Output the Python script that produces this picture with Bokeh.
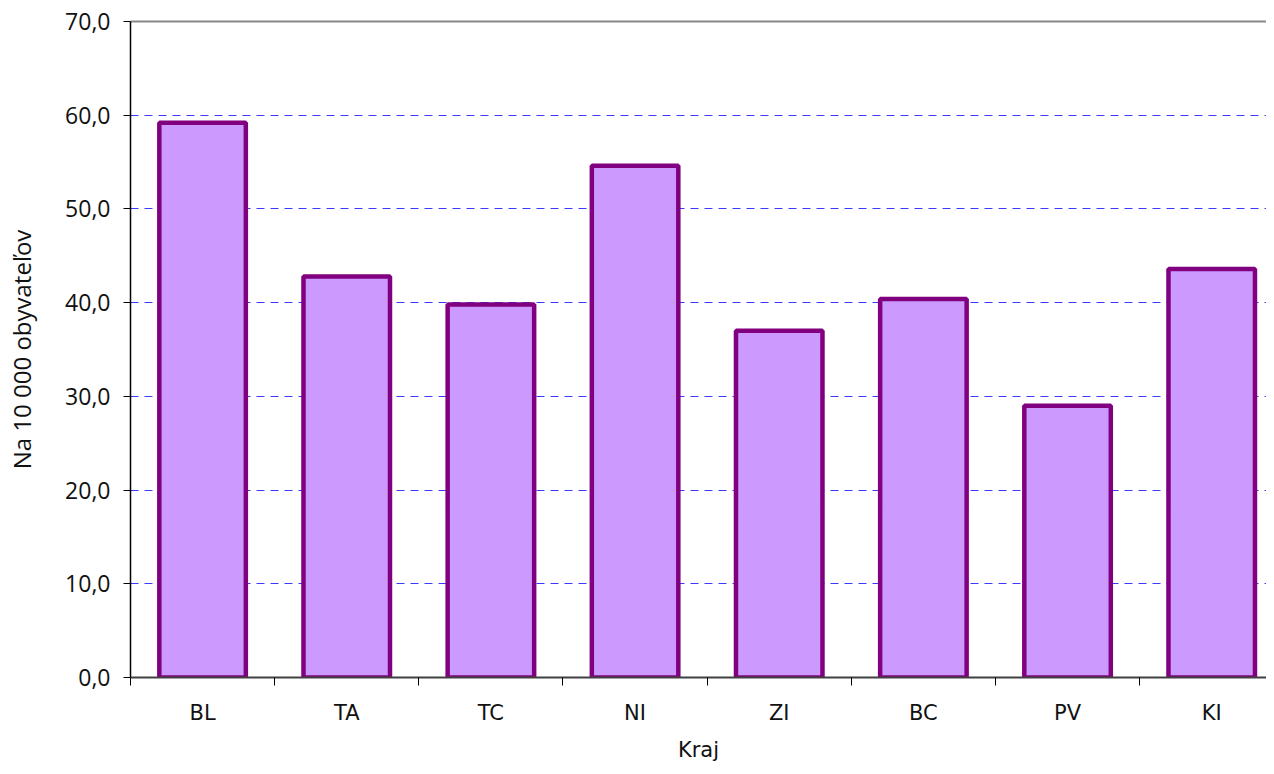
from bokeh.plotting import figure
from bokeh.models import (ColumnDataSource, Range1d, FixedTicker, LinearAxis,
                          CustomJSTickFormatter)
from bokeh.embed import file_html
from bokeh.resources import INLINE

# ---- data ----
categories = ["BL", "TA", "TC", "NI", "ZI", "BC", "PV", "KI"]
values = [59.2, 42.8, 39.8, 54.6, 37.0, 40.4, 29.0, 43.6]
y_ticks = [0, 10, 20, 30, 40, 50, 60, 70]
x_label = "Kraj"
y_label = "Na 10 000 obyvateľov"

centers = [i + 0.5 for i in range(len(categories))]
boundaries = list(range(len(categories)))

source = ColumnDataSource(dict(x=centers, top=values, cat=categories))

p = figure(width=1266, height=766, output_backend="svg", toolbar_location=None,
           x_range=Range1d(0, 7.88), y_range=Range1d(0, 70),
           min_border_left=130, min_border_right=0, min_border_top=21,
           min_border_bottom=89)
p.outline_line_color = None
p.background_fill_color = "white"
p.border_fill_color = "white"

p.vbar(x="x", top="top", width=0.6, source=source,
       fill_color="#cc99ff", line_color="#800080", line_width=4.5)

# x axis
xa = p.xaxis[0]
xa.ticker = FixedTicker(ticks=centers, minor_ticks=boundaries)
xa.formatter = CustomJSTickFormatter(args=dict(names=categories),
                                     code="return names[Math.floor(tick)];")
xa.major_tick_out = 0
xa.major_tick_in = 0
xa.minor_tick_out = 8
xa.minor_tick_in = 0
xa.minor_tick_line_color = "black"
xa.axis_line_color = "#404040"
xa.axis_line_width = 2
xa.major_label_text_font = "DejaVu Sans"
xa.major_label_text_font_size = "21px"
xa.major_label_text_color = "#111111"
xa.major_label_standoff = 15
xa.axis_label = x_label
xa.axis_label_text_font = "DejaVu Sans"
xa.axis_label_text_font_size = "21px"
xa.axis_label_text_font_style = "normal"
xa.axis_label_text_color = "#111111"
xa.axis_label_standoff = 10

# y axis
ya = p.yaxis[0]
ya.ticker = FixedTicker(ticks=y_ticks, minor_ticks=[])
ya.formatter = CustomJSTickFormatter(code="return tick.toFixed(1).replace('.', ',');")
ya.major_tick_out = 7
ya.major_tick_in = 0
ya.major_tick_line_color = "black"
ya.axis_line_color = "black"
ya.axis_line_width = 1.5
ya.major_label_text_font = "Open Sans"
ya.major_label_text_font_size = "23px"
ya.major_label_text_color = "#111111"
ya.major_label_standoff = 13
ya.axis_label = y_label
ya.axis_label_text_font = "Open Sans"
ya.axis_label_text_font_size = "24px"
ya.axis_label_text_font_style = "normal"
ya.axis_label_text_color = "#111111"
ya.axis_label_standoff = 24

# top frame line
top_axis = LinearAxis(ticker=FixedTicker(ticks=[]), axis_line_color="#888888",
                      axis_line_width=2, major_tick_out=0, major_tick_in=0,
                      minor_tick_out=0, minor_tick_in=0,
                      major_label_text_font_size="0px")
p.add_layout(top_axis, "above")

# grid
p.xgrid.grid_line_color = None
p.ygrid.ticker = FixedTicker(ticks=y_ticks)
p.ygrid.grid_line_color = "#3b3bff"
p.ygrid.grid_line_dash = "8 6"
p.ygrid.grid_line_width = 1

open("out.html", "w").write(file_html(p, INLINE))
